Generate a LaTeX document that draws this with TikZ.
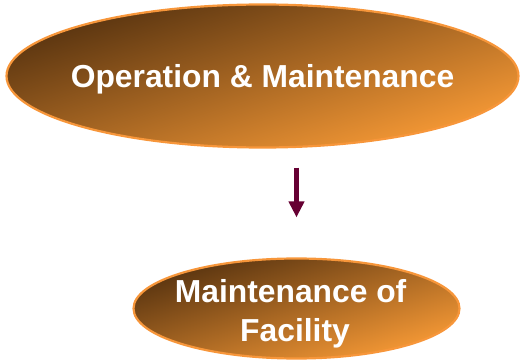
\documentclass[tikz,border=0pt]{standalone}
\usepackage{fontspec}
\setmainfont{Liberation Sans}
\usetikzlibrary{shapes.geometric,arrows.meta}
\definecolor{darkbrown}{HTML}{56320F}
\definecolor{lightorange}{HTML}{F99B36}
\definecolor{rimorange}{HTML}{F7963A}
\definecolor{arrowmaroon}{HTML}{660033}
\tikzset{
  oval/.style={ellipse, draw=rimorange, line width=2.2pt, inner sep=0pt,
    top color=darkbrown, bottom color=lightorange, shading angle=18},
  ovaltext/.style={text=white, font=\bfseries\fontsize{31.8}{39}\selectfont, align=center, inner sep=0pt},
  flow/.style={draw=arrowmaroon, line width=4.5pt, -{Triangle[length=16pt,width=15pt]}}
}
\begin{document}
\begin{tikzpicture}[x=1pt,y=-1pt]
\useasboundingbox (0,0) rectangle (523,361);
\node[oval, minimum width=512pt, minimum height=143pt] (top) at (262.5,76) {};
\node[ovaltext] (toptext) at (262.5,79) {Operation \& Maintenance};
\node[oval, minimum width=326pt, minimum height=100pt] (bot) at (296.5,308.5) {};
\node[ovaltext] (bottext) at (295,313.5) {Maintenance of\hspace*{8.8pt}\\Facility};
\draw[flow, shorten <=19pt, shorten >=40pt] (bot.north |- top.south) -- (bot.north);
\end{tikzpicture}
\end{document}
